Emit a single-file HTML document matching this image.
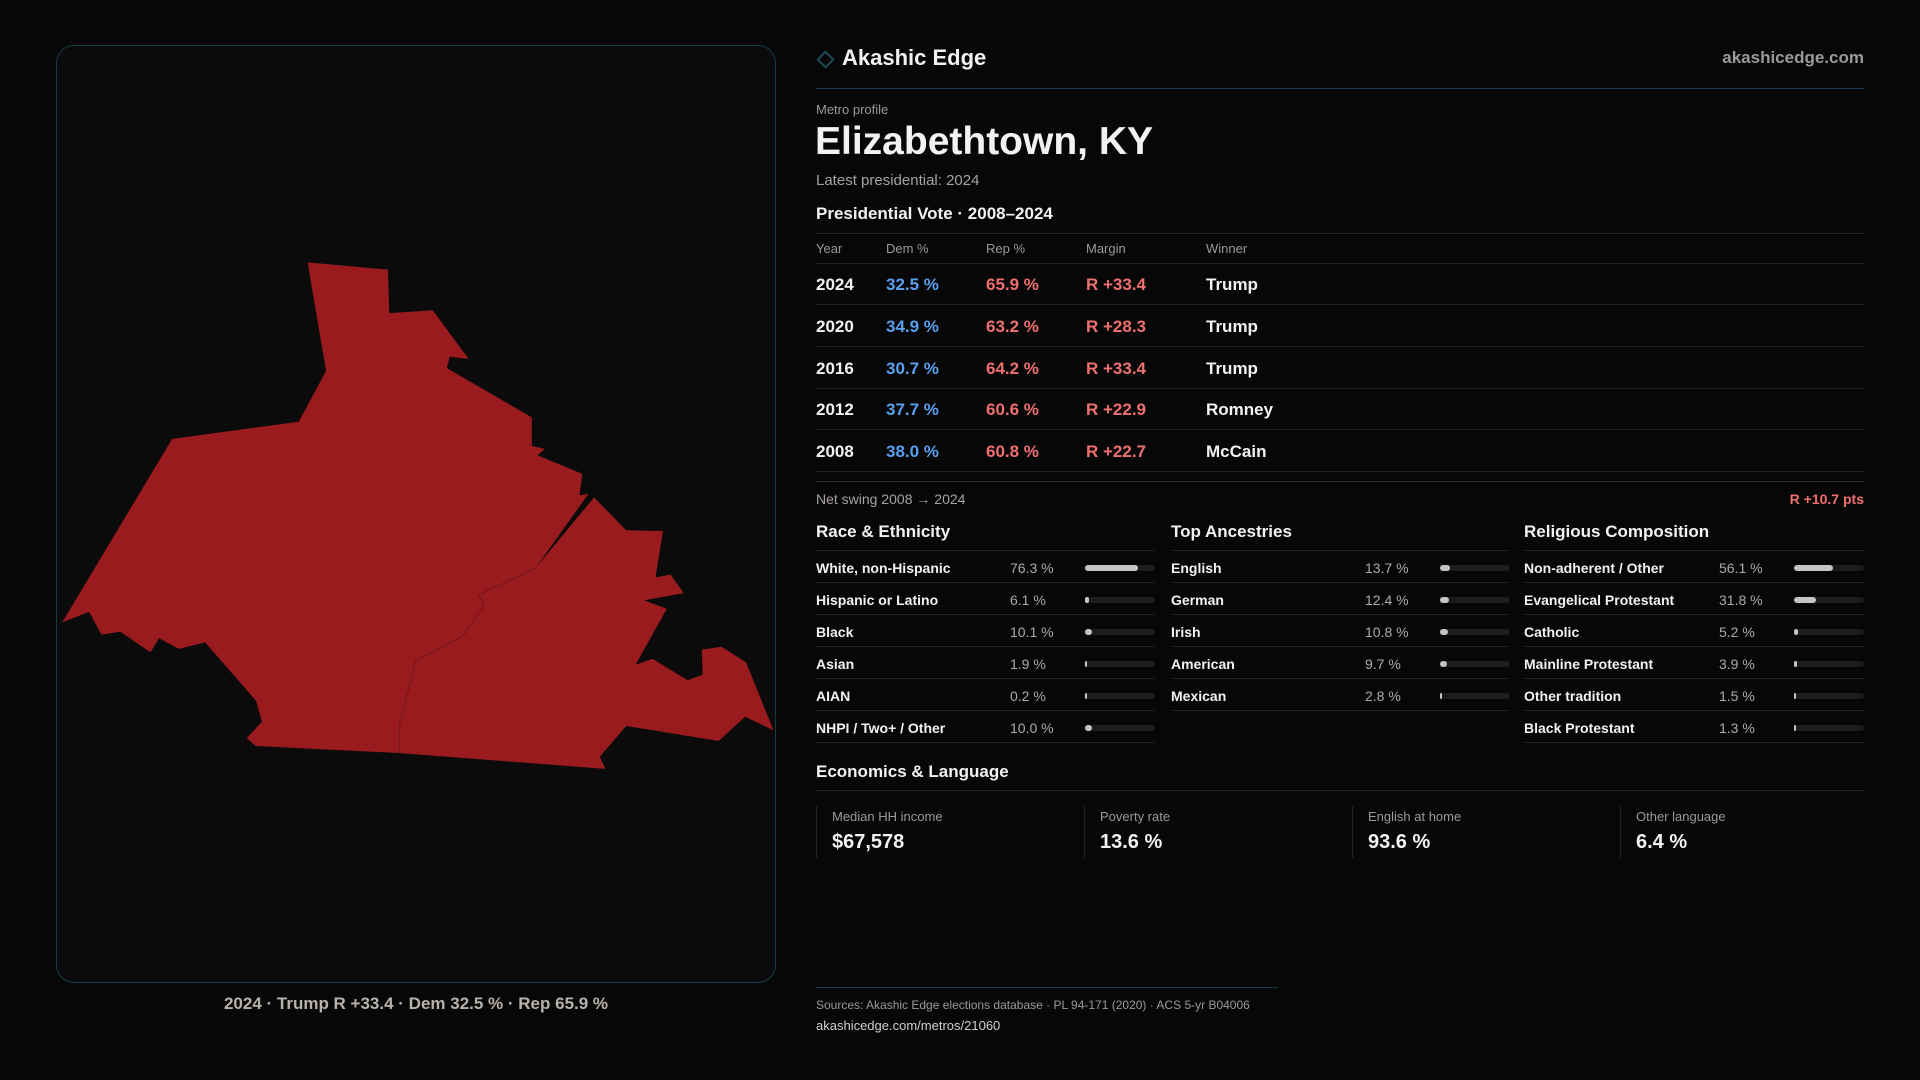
<!DOCTYPE html>
<html><head><meta charset="utf-8">
<style>
*{margin:0;padding:0;box-sizing:border-box}
body{width:1920px;height:1080px;background:#070707;font-family:"Liberation Sans",sans-serif;color:#f2f2f2;position:relative;overflow:hidden}
.abs{position:absolute}
#panel{left:56px;top:45px;width:720px;height:938px;border:1px solid #123d45;border-radius:18px;background:#0b0b0c}
.gray{color:#9a9a9a}
.rule{position:absolute;height:1px;background:#1f1f21}
.row{position:absolute;left:816px;width:1048px;height:41px;font-size:17px;font-weight:bold}
.row span{position:absolute;top:11px}
.sec{position:absolute}
.sec h3{font-size:17px;font-weight:bold;position:absolute;top:0;left:0;white-space:nowrap}
.item{position:absolute;left:0;height:32px;border-bottom:1px solid #1f1f21;font-size:14px}
.item .lab{position:absolute;top:9px;left:0;font-weight:bold;white-space:nowrap}
.item .val{position:absolute;top:9px;color:#b0aaa6}
.track{position:absolute;top:14px;width:70px;height:6px;border-radius:3px;background:#1c1c1e}
.fill{position:absolute;left:0;top:0;height:6px;border-radius:3px;background:#c4c4c6}
.card{position:absolute;top:806px;height:52px;border-left:1px solid #222}
.card .l{position:absolute;left:15px;top:3px;font-size:13px;color:#9a9a9a;white-space:nowrap}
.card .v{position:absolute;left:15px;top:25px;font-size:20px;font-weight:bold;white-space:nowrap}
</style></head><body>
<div id="panel" class="abs">
<svg id="map" width="720" height="938" style="position:absolute;left:-1px;top:-1px"></svg>
</div>
<div class="abs" style="left:56px;width:720px;top:994px;text-align:center;font-size:17px;font-weight:bold;color:#b8b2ad">2024 · Trump R +33.4 · Dem 32.5 % · Rep 65.9 %</div>

<div class="abs" style="left:819px;top:53px;width:13px;height:13px;border:2px solid #1a4a52;transform:rotate(45deg)"></div>
<div class="abs" style="left:842px;top:45px;font-size:22px;font-weight:bold">Akashic Edge</div>
<div class="abs gray" style="right:56px;top:48px;font-size:17px;font-weight:bold">akashicedge.com</div>
<div class="rule" style="left:816px;width:1048px;top:88px;background:#0f3a44"></div>

<div class="abs gray" style="left:816px;top:102px;font-size:13px">Metro profile</div>
<div class="abs" style="left:815px;top:120px;font-size:39px;font-weight:bold">Elizabethtown, KY</div>
<div class="abs gray" style="left:816px;top:172px;font-size:15px;color:#a8a2a0">Latest presidential: 2024</div>
<div class="abs" style="left:816px;top:204px;font-size:17px;font-weight:bold">Presidential Vote · 2008–2024</div>
<div class="rule" style="left:816px;width:1048px;top:233px"></div>
<div class="abs gray" style="left:816px;top:241px;font-size:13px;width:1048px">
<span class="abs" style="left:0">Year</span><span class="abs" style="left:70px">Dem %</span><span class="abs" style="left:170px">Rep %</span><span class="abs" style="left:270px">Margin</span><span class="abs" style="left:390px">Winner</span></div>
<div class="rule" style="left:816px;width:1048px;top:263px"></div>
<div id="rows"></div>
<div class="rule" style="left:816px;width:1048px;top:481px;background:#2a2a2c"></div>
<div class="abs gray" style="left:816px;top:491px;font-size:14px;color:#a8a2a0">Net swing 2008 → 2024</div>
<div class="abs" style="right:56px;top:491px;font-size:14px;font-weight:bold;color:#f07070">R +10.7 pts</div>

<div id="sections"></div>

<div class="abs" style="left:816px;top:762px;font-size:17px;font-weight:bold">Economics &amp; Language</div>
<div class="rule" style="left:816px;width:1048px;top:790px"></div>
<div class="card" style="left:816px;width:268px"><div class="l">Median HH income</div><div class="v">$67,578</div></div>
<div class="card" style="left:1084px;width:268px"><div class="l">Poverty rate</div><div class="v">13.6 %</div></div>
<div class="card" style="left:1352px;width:268px"><div class="l">English at home</div><div class="v">93.6 %</div></div>
<div class="card" style="left:1620px;width:244px"><div class="l">Other language</div><div class="v">6.4 %</div></div>

<div class="rule" style="left:816px;width:462px;top:987px;background:#0f3a44"></div>
<div class="abs gray" style="left:816px;top:998px;font-size:12px">Sources: Akashic Edge elections database · PL 94-171 (2020) · ACS 5-yr B04006</div>
<div class="abs" style="left:816px;top:1018px;font-size:13px;color:#cfcfcf">akashicedge.com/metros/21060</div>

<script>
const years=["2024","2020","2016","2012","2008"];
const demPct=[32.5,34.9,30.7,37.7,38.0];
const repPct=[65.9,63.2,64.2,60.6,60.8];
const margins=[33.4,28.3,33.4,22.9,22.7];
const winners=["Trump","Trump","Trump","Romney","McCain"];
const raceLabels=["White, non-Hispanic","Hispanic or Latino","Black","Asian","AIAN","NHPI / Two+ / Other"];
const raceValues=[76.3,6.1,10.1,1.9,0.2,10.0];
const ancLabels=["English","German","Irish","American","Mexican"];
const ancValues=[13.7,12.4,10.8,9.7,2.8];
const relLabels=["Non-adherent / Other","Evangelical Protestant","Catholic","Mainline Protestant","Other tradition","Black Protestant"];
const relValues=[56.1,31.8,5.2,3.9,1.5,1.3];

const rows=document.getElementById('rows');
years.forEach((y,i)=>{
  const r=document.createElement('div');
  r.className='row';
  r.style.top=(264+i*41.8)+'px';
  r.style.borderBottom='1px solid #1f1f21';
  
  
  r.innerHTML=`<span style="left:0">${y}</span><span style="left:70px;color:#5aa0f0">${demPct[i].toFixed(1)} %</span><span style="left:170px;color:#f07070">${repPct[i].toFixed(1)} %</span><span style="left:270px;color:#f07070">R +${margins[i].toFixed(1)}</span><span style="left:390px">${winners[i]}</span>`;
  rows.appendChild(r);
});

function section(title,labels,values,left,width,valX,name){
  const s=document.createElement('div');
  s.className='sec';
  s.style.left=left+'px';s.style.top='522px';s.style.width=width+'px';
  
  
  s.innerHTML=`<h3>${title}</h3><div class="rule" style="left:0;width:${width}px;top:28px"></div>`;
  labels.forEach((l,i)=>{
    const it=document.createElement('div');
    it.className='item';
    it.style.top=(29+i*32)+'px';it.style.width=width+'px';
    
    
    const w=Math.max(2,70*values[i]/100);
    it.innerHTML=`<span class="lab">${l}</span><span class="val" style="left:${valX}px">${values[i].toFixed(1)} %</span><div class="track" style="left:${width-70}px"><div class="fill" style="width:${w}px"></div></div>`;
    s.appendChild(it);
  });
  document.getElementById('sections').appendChild(s);
}
section("Race &amp; Ethnicity",raceLabels,raceValues,816,339,194,'race-section');
section("Top Ancestries",ancLabels,ancValues,1171,339,194,'ancestry-section');
section("Religious Composition",relLabels,relValues,1524,340,195,'religion-section');

const outline=[[565,88],[735,108],[738,230],[830,222],[906,358],[866,352],[860,384],[1040,522],[1040,602],[1068,610],[1052,628],[1147,680],[1141,740],[1160,736],[1050,940],[1172,746],[1240,838],[1318,840],[1302,970],[1334,962],[1362,1014],[1278,1034],[1326,1058],[1260,1214],[1296,1198],[1370,1258],[1402,1242],[1400,1172],[1442,1164],[1494,1208],[1552,1398],[1492,1360],[1436,1428],[1240,1386],[1184,1472],[1196,1506],[760,1462],[455,1442],[436,1420],[468,1374],[456,1316],[348,1152],[292,1170],[250,1140],[232,1180],[168,1122],[128,1130],[102,1066],[45,1096],[278,582],[546,534],[604,392]];
const inner=[[1048,944],[928,1018],[938,1050],[894,1134],[794,1204],[760,1380],[760,1462]];
const tx=p=>[(40+p[0]*740/1568-55).toFixed(1),(230+p[1]*560/1568-44).toFixed(1)].join(',');
const svg=document.getElementById('map');
const poly=document.createElementNS('http://www.w3.org/2000/svg','polygon');
poly.setAttribute('points',outline.map(tx).join(' '));
poly.setAttribute('fill','#991b1e');


svg.appendChild(poly);
const pl=document.createElementNS('http://www.w3.org/2000/svg','polyline');
pl.setAttribute('points',inner.map(tx).join(' '));
pl.setAttribute('fill','none');pl.setAttribute('stroke','#6e1416');pl.setAttribute('stroke-width','0.8');


svg.appendChild(pl);
</script>
</body></html>
